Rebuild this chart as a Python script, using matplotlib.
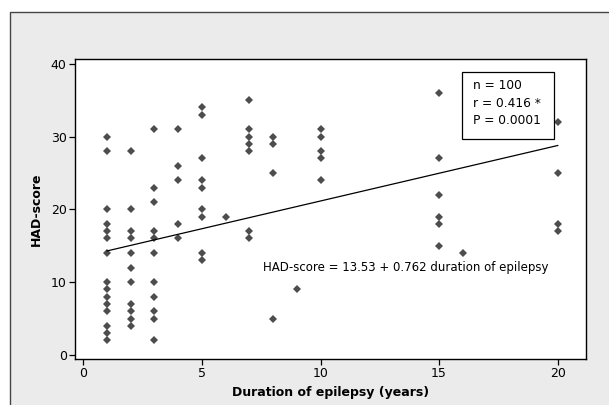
import numpy as np
import matplotlib
matplotlib.use("Agg")
import matplotlib.pyplot as plt
from matplotlib.patches import Rectangle

# Duration of epilepsy (years) -> HAD-scores
durations = [1, 2, 3, 4, 5, 6, 7, 8, 9, 10, 15, 16, 20]
had_scores = [
    [30, 28, 20, 18, 17, 16, 14, 10, 9, 8, 7, 6, 4, 3, 2],
    [28, 20, 17, 16, 14, 12, 10, 7, 6, 5, 4],
    [31, 23, 21, 17, 16, 14, 10, 8, 6, 5, 2],
    [31, 26, 24, 18, 16],
    [34, 33, 27, 24, 23, 20, 19, 14, 13],
    [19],
    [35, 31, 30, 29, 28, 17, 16],
    [30, 29, 25, 5],
    [9],
    [31, 30, 28, 27, 24],
    [36, 27, 22, 19, 18, 15],
    [14],
    [32, 25, 18, 17],
]
intercept = 13.53
slope = 0.762
stats_lines = ["n = 100", "r = 0.416 *", "P = 0.0001"]

xs = np.concatenate([[d] * len(s) for d, s in zip(durations, had_scores)])
ys = np.concatenate(had_scores)

plt.rcParams['font.family'] = ['DejaVu Sans']

fig = plt.figure(figsize=(6.09, 4.05), dpi=100)
fig.patch.set_facecolor('white')
# grey panel behind the graph (cropped on the right and bottom)
fig.patches.append(Rectangle((10 / 609, -0.1), 1.2, 1 - 12 / 405 + 0.1,
                             transform=fig.transFigure, facecolor='#ebebeb',
                             edgecolor='#444444', linewidth=1, zorder=-10))

ax = fig.add_axes([75 / 609, 1 - 359 / 405, (585.7 - 75) / 609, (359 - 58.7) / 405])
ax.set_facecolor('white')

ax.plot(xs, ys, 'D', color='#4d4d4d', markersize=3.6, markeredgewidth=0)

line_x = np.array([min(durations), max(durations)])
ax.plot(line_x, intercept + slope * line_x, color='black', linewidth=0.9)

ax.set_xlim(-0.35, 21.18)
ax.set_ylim(-0.55, 40.69)
ax.set_xticks([0, 5, 10, 15, 20])
ax.set_yticks([0, 10, 20, 30, 40])
ax.tick_params(direction='out', length=4, width=0.9, labelsize=9, pad=2, colors='black')
for sp in ax.spines.values():
    sp.set_linewidth(1)

ax.set_xlabel("Duration of epilepsy (years)", fontsize=9, fontweight='bold', labelpad=4)
ax.set_ylabel("HAD-score", fontsize=9, fontweight='bold', labelpad=6)

ax.text(7.59, 12.04, "HAD-score = %.2f + %.3f duration of epilepsy" % (intercept, slope),
        ha='left', va='center', fontsize=8.5)

ax.add_patch(Rectangle((15.98, 29.6), 19.86 - 15.98, 38.85 - 29.6,
                       facecolor='white', edgecolor='black', linewidth=0.9, zorder=3))
ax.text(16.44, 37.9, "\n".join(stats_lines), ha='left', va='top', fontsize=8.8,
        linespacing=1.45, zorder=4)

fig.savefig("out.png", dpi=100)
